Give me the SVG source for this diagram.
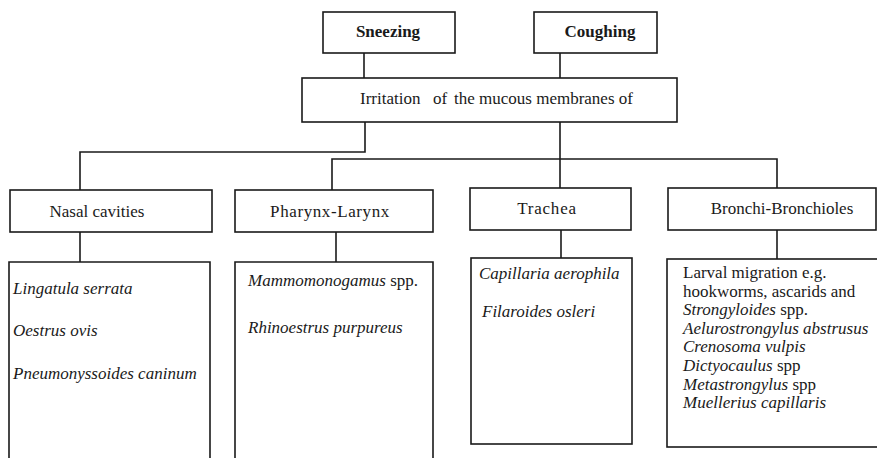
<svg xmlns="http://www.w3.org/2000/svg" width="877" height="458" viewBox="0 0 877 458">
  <style>
    .box { fill: #ffffff; stroke: #1a1a1a; stroke-width: 1.6; }
    .open { fill: none; stroke: #1a1a1a; stroke-width: 1.6; }
    .wire { fill: none; stroke: #1a1a1a; stroke-width: 1.6; }
    text { font-family: "Liberation Serif", "Times New Roman", serif; font-size: 17px; fill: #1a1a1a; }
    .bold { font-weight: bold; }
    .it { font-style: italic; }
    .mid { text-anchor: middle; }
  </style>
  <rect width="877" height="458" fill="#ffffff"/>

  <!-- connectors -->
  <g id="connectors">
    <path class="wire" d="M364 53 V78"/>
    <path class="wire" d="M560 53 V78"/>
    <path class="wire" d="M365 122 V152 H80 V190"/>
    <path class="wire" d="M560 122 V188"/>
    <path class="wire" d="M332 190 V159 H777 V188"/>
    <path class="wire" d="M80 232 V262"/>
    <path class="wire" d="M336 232 V262"/>
    <path class="wire" d="M561 230 V258"/>
    <path class="wire" d="M777 230 V259"/>
  </g>

  <!-- symptoms -->
  <g id="sneezing">
    <rect class="box" x="323" y="12" width="132" height="41"/>
    <text class="bold mid" x="388" y="37">Sneezing</text>
  </g>
  <g id="coughing">
    <rect class="box" x="534" y="12" width="123" height="41"/>
    <text class="bold mid" x="600" y="37">Coughing</text>
  </g>

  <!-- cause -->
  <g id="irritation">
    <rect class="box" x="302" y="78" width="375" height="44"/>
    <text y="104"><tspan x="360">Irritation</tspan><tspan x="433">of</tspan><tspan x="454">the mucous membranes of</tspan></text>
  </g>

  <!-- sites -->
  <g id="nasal">
    <rect class="box" x="10" y="190" width="202" height="42"/>
    <text class="mid" x="97" y="217">Nasal cavities</text>
  </g>
  <g id="pharynx">
    <rect class="box" x="235" y="190" width="198" height="42"/>
    <text class="mid" x="330" y="217" letter-spacing="0.6">Pharynx-Larynx</text>
  </g>
  <g id="trachea">
    <rect class="box" x="470" y="188" width="161" height="42"/>
    <text class="mid" x="547" y="214" letter-spacing="0.8">Trachea</text>
  </g>
  <g id="bronchi">
    <rect class="box" x="668" y="188" width="208" height="42"/>
    <text class="mid" x="782" y="214">Bronchi-Bronchioles</text>
  </g>

  <!-- parasites per site -->
  <g id="nasal-parasites">
    <path class="open" d="M9 462 V262 H210 V462"/>
    <text class="it" x="13" y="294">Lingatula serrata</text>
    <text class="it" x="13" y="336">Oestrus ovis</text>
    <text class="it" x="13" y="379">Pneumonyssoides caninum</text>
  </g>
  <g id="pharynx-parasites">
    <path class="open" d="M235 462 V262 H433 V462"/>
    <text x="248" y="286"><tspan class="it">Mammomonogamus</tspan> spp.</text>
    <text class="it" x="248" y="333">Rhinoestrus purpureus</text>
  </g>
  <g id="trachea-parasites">
    <rect class="box" x="471" y="258" width="161" height="186"/>
    <text class="it" x="479" y="279">Capillaria aerophila</text>
    <text class="it" x="482" y="317">Filaroides osleri</text>
  </g>
  <g id="bronchi-parasites">
    <rect class="box" x="667" y="259" width="215" height="188"/>
    <text x="683" y="278">Larval migration e.g.</text>
    <text x="683" y="297">hookworms, ascarids and</text>
    <text x="683" y="315"><tspan class="it">Strongyloides</tspan> spp.</text>
    <text class="it" x="683" y="334">Aelurostrongylus abstrusus</text>
    <text class="it" x="683" y="352">Crenosoma vulpis</text>
    <text x="683" y="371"><tspan class="it">Dictyocaulus</tspan> spp</text>
    <text x="683" y="390"><tspan class="it">Metastrongylus</tspan> spp</text>
    <text class="it" x="683" y="408">Muellerius capillaris</text>
  </g>
</svg>
